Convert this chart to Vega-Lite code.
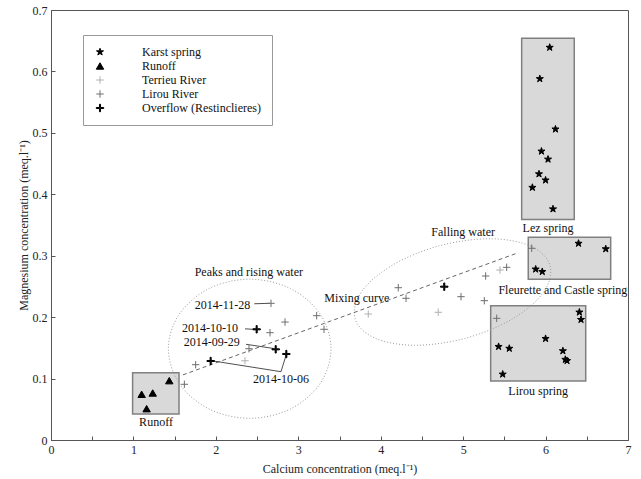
{
  "$schema": "https://vega.github.io/schema/vega-lite/v6.json",
  "width": 577,
  "height": 430,
  "autosize": {"type": "none"},
  "padding": {"left": 51, "top": 10, "right": 13, "bottom": 39},
  "background": "white",
  "config": {
    "font": "Liberation Serif",
    "view": {"stroke": "#555", "strokeWidth": 1},
    "axis": {
      "grid": false,
      "domainColor": "#555",
      "tickColor": "#555",
      "tickSize": -4,
      "labelFont": "Liberation Serif",
      "labelFontSize": 12,
      "labelColor": "#222",
      "labelFlush": false,
      "titleFont": "Liberation Serif",
      "titleFontSize": 12,
      "titleFontWeight": "normal",
      "titleColor": "#222"
    },
    "text": {"font": "Liberation Serif", "fontSize": 12, "color": "#111"}
  },
  "datasets": {
    "boxes": [
      {"name": "Lez", "x1": 5.71, "x2": 6.348, "y1": 0.359, "y2": 0.654},
      {"name": "Fleurette", "x1": 5.79, "x2": 6.79, "y1": 0.2616, "y2": 0.33},
      {"name": "Lirou", "x1": 5.334, "x2": 6.487, "y1": 0.096, "y2": 0.2186},
      {"name": "Runoff", "x1": 0.99, "x2": 1.553, "y1": 0.0423, "y2": 0.1096}
    ],
    "ellipses": [
      {"g": "peaks", "o": 0, "x": 3.397, "y": 0.1485},
      {"g": "peaks", "o": 1, "x": 3.265, "y": 0.205},
      {"g": "peaks", "o": 2, "x": 2.904, "y": 0.2465},
      {"g": "peaks", "o": 3, "x": 2.41, "y": 0.2618},
      {"g": "peaks", "o": 4, "x": 1.917, "y": 0.2465},
      {"g": "peaks", "o": 5, "x": 1.557, "y": 0.205},
      {"g": "peaks", "o": 6, "x": 1.424, "y": 0.1485},
      {"g": "peaks", "o": 7, "x": 1.557, "y": 0.0919},
      {"g": "peaks", "o": 8, "x": 1.917, "y": 0.0505},
      {"g": "peaks", "o": 9, "x": 2.41, "y": 0.0353},
      {"g": "peaks", "o": 10, "x": 2.904, "y": 0.0505},
      {"g": "peaks", "o": 11, "x": 3.265, "y": 0.0919},
      {"g": "mix", "o": 0, "x": 6.055, "y": 0.2834},
      {"g": "mix", "o": 1, "x": 5.821, "y": 0.3155},
      {"g": "mix", "o": 2, "x": 5.333, "y": 0.3276},
      {"g": "mix", "o": 3, "x": 4.72, "y": 0.3165},
      {"g": "mix", "o": 4, "x": 4.149, "y": 0.2851},
      {"g": "mix", "o": 5, "x": 3.77, "y": 0.2419},
      {"g": "mix", "o": 6, "x": 3.687, "y": 0.1984},
      {"g": "mix", "o": 7, "x": 3.921, "y": 0.1664},
      {"g": "mix", "o": 8, "x": 4.409, "y": 0.1542},
      {"g": "mix", "o": 9, "x": 5.021, "y": 0.1654},
      {"g": "mix", "o": 10, "x": 5.593, "y": 0.1967},
      {"g": "mix", "o": 11, "x": 5.971, "y": 0.2399}
    ],
    "mixing": [
      {"x": 1.6, "y": 0.106},
      {"x": 5.65, "y": 0.304}
    ],
    "leaders": [
      {"g": "a", "o": 0, "x": 2.466, "y": 0.2218},
      {"g": "a", "o": 1, "x": 2.655, "y": 0.2225},
      {"g": "b", "o": 0, "x": 2.354, "y": 0.181},
      {"g": "b", "o": 1, "x": 2.475, "y": 0.18},
      {"g": "c", "o": 0, "x": 2.366, "y": 0.1558},
      {"g": "c", "o": 1, "x": 2.7, "y": 0.149},
      {"g": "d", "o": 0, "x": 1.95, "y": 0.129},
      {"g": "d", "o": 1, "x": 2.79, "y": 0.1112},
      {"g": "d", "o": 2, "x": 2.859, "y": 0.1411}
    ],
    "points": [
      {"type": "Karst spring", "ca": 6.05, "mg": 0.639},
      {"type": "Karst spring", "ca": 5.93, "mg": 0.588},
      {"type": "Karst spring", "ca": 6.12, "mg": 0.506},
      {"type": "Karst spring", "ca": 5.95, "mg": 0.47},
      {"type": "Karst spring", "ca": 6.03, "mg": 0.457},
      {"type": "Karst spring", "ca": 5.92, "mg": 0.433},
      {"type": "Karst spring", "ca": 6.0, "mg": 0.423},
      {"type": "Karst spring", "ca": 5.84, "mg": 0.411},
      {"type": "Karst spring", "ca": 6.09, "mg": 0.376},
      {"type": "Karst spring", "ca": 6.4, "mg": 0.32},
      {"type": "Karst spring", "ca": 6.73, "mg": 0.311},
      {"type": "Karst spring", "ca": 5.88, "mg": 0.278},
      {"type": "Karst spring", "ca": 5.96, "mg": 0.274},
      {"type": "Karst spring", "ca": 6.41, "mg": 0.208},
      {"type": "Karst spring", "ca": 6.43, "mg": 0.196},
      {"type": "Karst spring", "ca": 6.0, "mg": 0.165},
      {"type": "Karst spring", "ca": 5.43, "mg": 0.152},
      {"type": "Karst spring", "ca": 5.56, "mg": 0.149},
      {"type": "Karst spring", "ca": 6.21, "mg": 0.145},
      {"type": "Karst spring", "ca": 6.24, "mg": 0.131},
      {"type": "Karst spring", "ca": 6.26, "mg": 0.129},
      {"type": "Karst spring", "ca": 5.48, "mg": 0.107},
      {"type": "Runoff", "ca": 1.435, "mg": 0.0966},
      {"type": "Runoff", "ca": 1.1, "mg": 0.0744},
      {"type": "Runoff", "ca": 1.234, "mg": 0.0765},
      {"type": "Runoff", "ca": 1.16, "mg": 0.051},
      {"type": "Terrieu River", "ca": 2.353, "mg": 0.129},
      {"type": "Terrieu River", "ca": 3.849, "mg": 0.2051},
      {"type": "Terrieu River", "ca": 4.698, "mg": 0.2079},
      {"type": "Terrieu River", "ca": 5.447, "mg": 0.2767},
      {"type": "Lirou River", "ca": 2.669, "mg": 0.2225},
      {"type": "Lirou River", "ca": 2.839, "mg": 0.192},
      {"type": "Lirou River", "ca": 2.657, "mg": 0.1747},
      {"type": "Lirou River", "ca": 3.223, "mg": 0.2024},
      {"type": "Lirou River", "ca": 3.312, "mg": 0.1802},
      {"type": "Lirou River", "ca": 2.402, "mg": 0.1486},
      {"type": "Lirou River", "ca": 1.755, "mg": 0.1226},
      {"type": "Lirou River", "ca": 1.618, "mg": 0.0907},
      {"type": "Lirou River", "ca": 4.213, "mg": 0.2479},
      {"type": "Lirou River", "ca": 4.307, "mg": 0.2307},
      {"type": "Lirou River", "ca": 4.974, "mg": 0.2333},
      {"type": "Lirou River", "ca": 5.257, "mg": 0.2268},
      {"type": "Lirou River", "ca": 5.273, "mg": 0.267},
      {"type": "Lirou River", "ca": 5.528, "mg": 0.2811},
      {"type": "Lirou River", "ca": 5.832, "mg": 0.3121},
      {"type": "Lirou River", "ca": 5.407, "mg": 0.1981},
      {"type": "Overflow (Restinclieres)", "ca": 1.937, "mg": 0.1286},
      {"type": "Overflow (Restinclieres)", "ca": 2.495, "mg": 0.1802},
      {"type": "Overflow (Restinclieres)", "ca": 2.726, "mg": 0.1476},
      {"type": "Overflow (Restinclieres)", "ca": 2.855, "mg": 0.14},
      {"type": "Overflow (Restinclieres)", "ca": 4.771, "mg": 0.2496}
    ],
    "labels": [
      {"label": "2014-11-28", "x": 2.08, "y": 0.22},
      {"label": "2014-10-10", "x": 1.93, "y": 0.183},
      {"label": "2014-09-29", "x": 1.95, "y": 0.16},
      {"label": "2014-10-06", "x": 2.79, "y": 0.099},
      {"label": "Peaks and rising water", "x": 2.4, "y": 0.273},
      {"label": "Mixing curve", "x": 3.71, "y": 0.231},
      {"label": "Falling water", "x": 5.0, "y": 0.339},
      {"label": "Lez spring", "x": 6.03, "y": 0.345},
      {"label": "Fleurette and Castle spring", "x": 6.21, "y": 0.244},
      {"label": "Lirou spring", "x": 5.91, "y": 0.08},
      {"label": "Runoff", "x": 1.274, "y": 0.0293}
    ]
  },
  "layer": [
    {
      "data": {"name": "boxes"},
      "mark": {"type": "rect", "fill": "#d9d9d9", "stroke": "#808080", "strokeWidth": 1.5},
      "encoding": {
        "x": {"field": "x1", "type": "quantitative", "scale": {"domain": [0, 7], "nice": false},
          "axis": {"title": "Calcium concentration (meq.l⁻¹)", "values": [0, 0.5, 1, 1.5, 2, 2.5, 3, 3.5, 4, 4.5, 5, 5.5, 6, 6.5, 7], "labelExpr": "datum.value % 1 == 0 ? format(datum.value, 'd') : ''", "labelPadding": 8, "titlePadding": 8}},
        "x2": {"field": "x2"},
        "y": {"field": "y1", "type": "quantitative", "scale": {"domain": [0, 0.7], "nice": false},
          "axis": {"title": "Magnesium concentration (meq.l⁻¹)", "values": [0, 0.05, 0.1, 0.15, 0.2, 0.25, 0.3, 0.35, 0.4, 0.45, 0.5, 0.55, 0.6, 0.65, 0.7], "labelExpr": "abs(datum.value * 10 - round(datum.value * 10)) < 0.000001 ? format(datum.value, '~g') : ''", "labelPadding": 8, "titlePadding": 2}},
        "y2": {"field": "y2"}
      }
    },
    {
      "data": {"name": "ellipses"},
      "mark": {"type": "line", "interpolate": "cardinal-closed", "stroke": "#9a9a9a", "strokeWidth": 1, "strokeDash": [1, 2]},
      "encoding": {
        "x": {"field": "x", "type": "quantitative"},
        "y": {"field": "y", "type": "quantitative"},
        "detail": {"field": "g"},
        "order": {"field": "o", "type": "quantitative"}
      }
    },
    {
      "data": {"name": "mixing"},
      "mark": {"type": "line", "stroke": "#666", "strokeWidth": 1, "strokeDash": [4, 3]},
      "encoding": {
        "x": {"field": "x", "type": "quantitative"},
        "y": {"field": "y", "type": "quantitative"}
      }
    },
    {
      "data": {"name": "leaders"},
      "mark": {"type": "line", "stroke": "#222", "strokeWidth": 0.8},
      "encoding": {
        "x": {"field": "x", "type": "quantitative"},
        "y": {"field": "y", "type": "quantitative"},
        "detail": {"field": "g"},
        "order": {"field": "o", "type": "quantitative"}
      }
    },
    {
      "data": {"name": "points"},
      "mark": {"type": "point", "size": 55, "opacity": 1, "strokeWidth": 1},
      "encoding": {
        "x": {"field": "ca", "type": "quantitative"},
        "y": {"field": "mg", "type": "quantitative"},
        "shape": {"field": "type", "type": "nominal",
          "scale": {"domain": ["Karst spring", "Runoff", "Terrieu River", "Lirou River", "Overflow (Restinclieres)"],
            "range": ["M0,-1L0.225,-0.309L0.951,-0.309L0.363,0.118L0.588,0.809L0,0.382L-0.588,0.809L-0.363,0.118L-0.951,-0.309L-0.225,-0.309Z", "triangle-up", "M-1,0L1,0M0,-1L0,1", "M-1,0L1,0M0,-1L0,1", "M-1,-0.14L-0.14,-0.14L-0.14,-1L0.14,-1L0.14,-0.14L1,-0.14L1,0.14L0.14,0.14L0.14,1L-0.14,1L-0.14,0.14L-1,0.14Z"]},
          "legend": {"title": null, "orient": "none", "legendX": 32, "legendY": 25, "padding": 11, "strokeColor": "#999", "fillColor": "white", "labelFont": "Liberation Serif", "labelFontSize": 12, "labelColor": "#111", "labelOffset": 36, "rowPadding": 2, "symbolSize": 55, "symbolStrokeWidth": 1}},
        "fill": {"field": "type", "type": "nominal",
          "scale": {"domain": ["Karst spring", "Runoff", "Terrieu River", "Lirou River", "Overflow (Restinclieres)"],
            "range": ["#000", "#000", "transparent", "transparent", "#000"]}},
        "stroke": {"field": "type", "type": "nominal",
          "scale": {"domain": ["Karst spring", "Runoff", "Terrieu River", "Lirou River", "Overflow (Restinclieres)"],
            "range": ["#000", "#000", "#b0b0b0", "#6e6e6e", "#000"]}}
      }
    },
    {
      "data": {"name": "labels"},
      "mark": {"type": "text", "align": "center", "baseline": "middle", "font": "Liberation Serif", "fontSize": 12},
      "encoding": {
        "x": {"field": "x", "type": "quantitative"},
        "y": {"field": "y", "type": "quantitative"},
        "text": {"field": "label"}
      }
    }
  ]
}
